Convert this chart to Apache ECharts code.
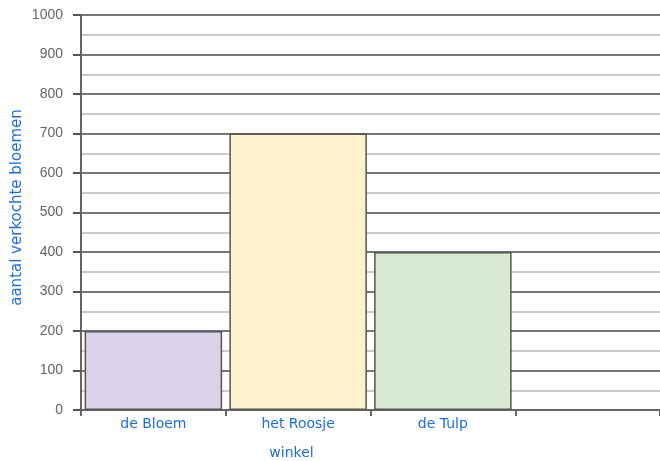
<!DOCTYPE html>
<html>
<head>
<meta charset="utf-8">
<script src="https://cdn.jsdelivr.net/npm/echarts@6/dist/echarts.min.js"></script>
<style>html,body{margin:0;padding:0;background:#fff}#c{width:660px;height:461px}</style>
</head>
<body>
<div id="c"></div>
<script>
const categories = ['de Bloem', 'het Roosje', 'de Tulp', ''];
const values = [200, 700, 400, null];
const barColors = ['#d9d2e9', '#fff2cc', '#d9ead3', '#ffffff'];
const yTicks = [0, 100, 200, 300, 400, 500, 600, 700, 800, 900, 1000];
const xAxisName = 'winkel';
const yAxisName = 'aantal verkochte bloemen';

const chart = echarts.init(document.getElementById('c'), null, {renderer: 'canvas'});
const blue = '#1c6fd6';
chart.setOption({
  animation: false,
  grid: {left: 81, right: 0, top: 15, bottom: 51, containLabel: false, outerBoundsMode: 'none'},
  xAxis: {
    type: 'category',
    data: categories,
    name: xAxisName,
    nameLocation: 'middle',
    nameGap: 36,
    nameMoveOverlap: false,
    nameTextStyle: {color: blue, fontFamily: 'DejaVu Sans', fontSize: 14, padding: [0, 158, 0, 0]},
    axisLine: {lineStyle: {color: '#666', width: 2}},
    axisTick: {show: true, alignWithLabel: false, length: 6, lineStyle: {color: '#666', width: 2}},
    axisLabel: {color: blue, fontFamily: 'DejaVu Sans', fontSize: 14, margin: 7, interval: 0},
    splitLine: {show: false}
  },
  yAxis: {
    type: 'value',
    min: yTicks[0],
    max: yTicks[yTicks.length - 1],
    interval: 100,
    name: yAxisName,
    nameLocation: 'middle',
    nameGap: 56,
    nameMoveOverlap: false,
    nameTextStyle: {color: blue, fontFamily: 'DejaVu Sans', fontSize: 15, padding: [0, 0, 0, 10]},
    axisLine: {show: true, lineStyle: {color: '#666', width: 2}},
    axisTick: {show: true, length: 8, lineStyle: {color: '#555', width: 2}},
    axisLabel: {color: '#666', fontFamily: 'Liberation Sans', fontSize: 14, margin: 18, formatter: v => String(v)},
    splitLine: {show: true, lineStyle: {color: '#777', width: 2}},
    minorTick: {show: false, splitNumber: 2},
    minorSplitLine: {show: true, lineStyle: {color: '#bbb', width: 1.5}}
  },
  series: [{
    type: 'bar',
    data: values.map((v, i) => ({value: v, itemStyle: {color: barColors[i]}})),
    barWidth: '95%',
    itemStyle: {borderColor: '#555', borderWidth: 1.5}
  }]
});
</script>
</body>
</html>
